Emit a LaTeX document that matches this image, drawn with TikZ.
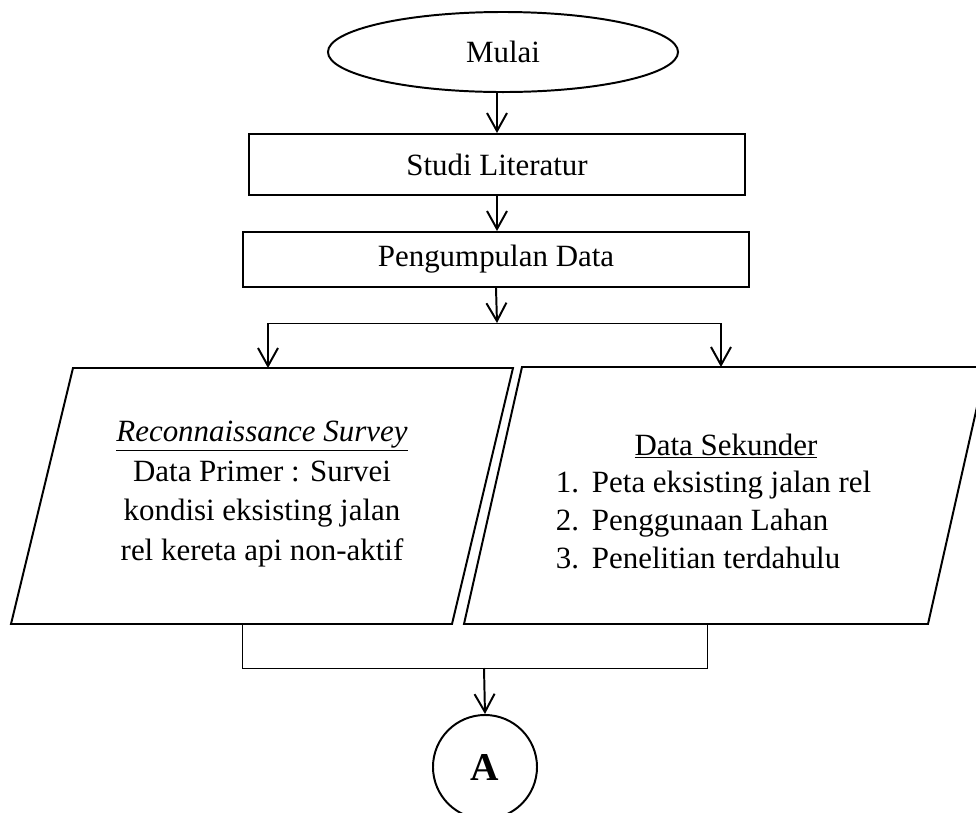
\documentclass[tikz,border=0pt]{standalone}
\usepackage{fontspec}
\setmainfont{Liberation Serif}
\usetikzlibrary{shapes.geometric,arrows.meta}

\begin{document}
\begin{tikzpicture}[x=0.025cm,y=-0.025cm,line width=1.4pt,
  >={Straight Barb[length=0.45cm,width=0.5cm]},
  every node/.style={font=\fontsize{22}{27}\selectfont},
  terminal/.style={ellipse,draw,inner sep=0pt},
  proses/.style={rectangle,draw,inner sep=0pt},
  tipis/.style={line width=0.7pt}]
  \clip (0,0) rectangle (976,812);

  \node[terminal,minimum width=8.75cm,minimum height=2cm] (mulai) at (503,52){Mulai};
  \node[proses,minimum width=12.4cm,minimum height=1.525cm] (studi) at (497,164.5){Studi Literatur};
  \node[proses,minimum width=12.65cm,minimum height=1.375cm] (kumpul) at (496,259.5){Pengumpulan Data};

  \coordinate (cabang) at (497,323);
  \coordinate (cabangL) at (268,323);
  \coordinate (cabangR) at (721,323);

  % parallelogram data primer
  \coordinate (p1) at (73,368);
  \coordinate (p2) at (513,368);
  \coordinate (p3) at (452,624);
  \coordinate (p4) at (11,624);
  \draw (p1) -- (p2) -- (p3) -- (p4) -- cycle;
  \node[align=center,font=\fontsize{22}{28}\selectfont] (primer) at (262,494){\underline{\textit{Reconnaissance Survey}}\\
    Data Primer : Survei\\kondisi eksisting jalan\\rel kereta api non-aktif};

  % parallelogram data sekunder
  \coordinate (s1) at (522,367);
  \coordinate (s2) at (986,367);
  \coordinate (s3) at (928,624);
  \coordinate (s4) at (464,624);
  \draw (s1) -- (s2) -- (s3) -- (s4) -- cycle;
  \node (sekunder) at (726,446){\underline{Data Sekunder}};
  \node[align=left,anchor=north west,inner sep=0pt] (daftar) at (555,470){%
    \makebox[0.9cm][l]{1.}Peta eksisting jalan rel\\
    \makebox[0.9cm][l]{2.}Penggunaan Lahan\\
    \makebox[0.9cm][l]{3.}Penelitian terdahulu};

  \coordinate (gabungL) at (242,624);
  \coordinate (gabungR) at (707,624);
  \coordinate (gabung) at (484,668);

  \node[circle,draw,minimum size=2.6cm,inner sep=0pt,font=\fontsize{28}{34}\selectfont] (konektor) at (485,767){\textbf{A}};

  \draw[->] (studi.north |- mulai.south) -- (studi.north);
  \draw[->] (studi.south) -- (studi.south |- kumpul.north);
  \draw[->] (kumpul.south) -- (cabang);
  \draw[tipis] (cabangL) -- (cabangR);
  \draw[->] (cabangL) -- (cabangL |- p1);
  \draw[->] (cabangR) -- (cabangR |- s1);

  \draw[tipis] (gabungL) -- (gabungL |- gabung) -- (gabungR |- gabung) -- (gabungR);
  \draw[->] (gabung) -- (konektor.north);

\end{tikzpicture}
\end{document}
